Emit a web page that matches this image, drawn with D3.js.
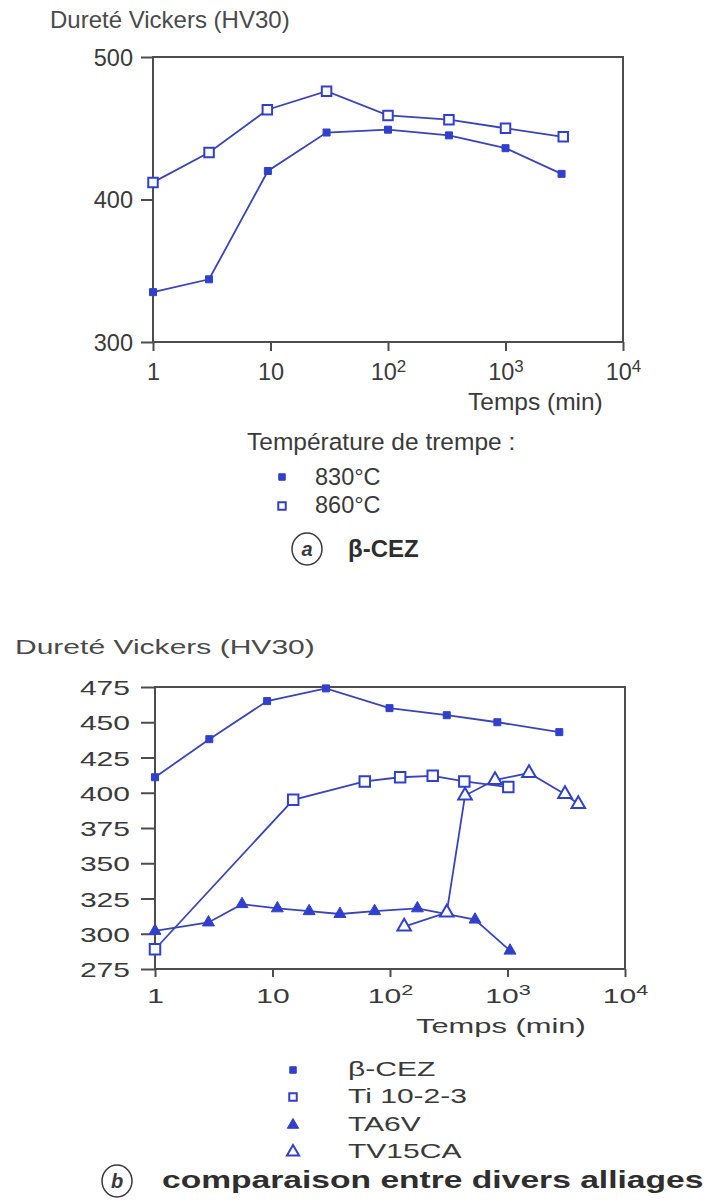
<!DOCTYPE html>
<html>
<head>
<meta charset="utf-8">
<script src="https://cdn.jsdelivr.net/npm/d3@7"></script>
<style>
  html, body { margin: 0; padding: 0; background: #ffffff; }
  svg { display: block; }
  text { font-family: "Liberation Sans", Arial, Helvetica, sans-serif; }
</style>
</head>
<body>
<svg id="fig" width="704" height="1204"></svg>
<script>
// ---- Shared time axis (minutes, log scale) ----
const timeTicks = [1, 10, 100, 1000, 10000];
const yTicksA = [300, 400, 500];
const yTicksB = [275, 300, 325, 350, 375, 400, 425, 450, 475];

// ---- (a) beta-CEZ, two quench temperatures ----
const quenchTitle = "Température de trempe :";
const quenchLabels = ["830°C", "860°C"];
const time830 = [1, 3, 9.5, 30, 100, 330, 1000, 3000];
const hv830 = [335, 344, 420, 447, 449, 445, 436, 418];
const time860 = [1, 3, 9.4, 30, 100, 330, 1000, 3100];
const hv860 = [412, 433, 463, 476, 459, 456, 450, 444];

// ---- (b) comparison of alloys ----
const alloyLabels = ["β-CEZ", "Ti 10-2-3", "TA6V", "TV15CA"];
const timeCEZ = [1, 2.9, 9, 28.5, 99, 304, 820, 2760];
const hvCEZ = [411, 438, 465, 474, 460, 455, 450, 443];
const timeTi1023 = [1, 15, 61, 122, 231, 429, 1016];
const hvTi1023 = [289, 395, 408, 411, 412, 408, 404];
const timeTA6V = [1, 2.85, 5.5, 11, 20.5, 37.5, 74, 171, 529, 1050];
const hvTA6V = [302, 308, 321, 318, 316, 314, 316, 318, 310, 288];
const timeTV15CA = [132, 304, 435, 783, 1524, 3085, 4005];
const hvTV15CA = [305, 315, 398, 409, 414, 399, 392];

const yTitle = "Dureté Vickers (HV30)";
const xTitle = "Temps (min)";
const captionA = "β-CEZ";
const captionB = "comparaison entre divers alliages";

// ---- styling ----
const BLUE = "#3040cc";
const LINE = "#3944b8";
const INK = "#3a3a3a";
const FRAME = "#4d4d4d";

const svg = d3.select("#fig");

const zip = (xs, ys) => xs.map((t, i) => [t, ys[i]]);

// Horizontal stretch of a text element about its anchor x
function stretch(sel, sx, ax) {
  if (sx === 1) return;
  sel.each(function () {
    const t = d3.select(this);
    const x = ax !== undefined ? ax : (+t.attr("x") || 0);
    t.attr("transform", `translate(${x},0) scale(${sx},1) translate(${-x},0)`);
  });
}

function label(g, str, x, y, o = {}) {
  const t = g.append("text")
    .attr("x", x).attr("y", y)
    .attr("font-size", o.fs || 20)
    .attr("fill", o.fill || INK)
    .attr("text-anchor", o.anchor || "start")
    .attr("font-weight", o.weight || "normal")
    .attr("font-style", o.style || "normal")
    .text(str);
  stretch(t, o.sx || 1, x);
  return t;
}

const symbols = {
  filledSquare: { type: d3.symbolSquare, fill: true },
  openSquare: { type: d3.symbolSquare, fill: false },
  filledTri: { type: d3.symbolTriangle, fill: true },
  openTri: { type: d3.symbolTriangle, fill: false }
};

function marker(g, kind, size, cx, cy) {
  const s = symbols[kind];
  g.append("path")
    .attr("d", d3.symbol().type(s.type).size(size)())
    .attr("transform", `translate(${cx},${cy})`)
    .attr("fill", s.fill ? BLUE : "#ffffff")
    .attr("stroke", BLUE)
    .attr("stroke-width", s.fill ? 1 : 2);
}

function panel(cfg) {
  const x = d3.scaleLog()
    .domain([timeTicks[0], timeTicks[timeTicks.length - 1]])
    .range([cfg.left, cfg.right]);
  const y = d3.scaleLinear().domain(cfg.yDomain).range([cfg.bottom, cfg.top]);
  const g = svg.append("g");

  // y axis with outward ticks
  const ya = g.append("g")
    .attr("transform", `translate(${cfg.left},0)`)
    .call(d3.axisLeft(y).tickValues(cfg.yTicks).tickSize(cfg.yTick)
      .tickSizeOuter(0).tickPadding(cfg.yPad).tickFormat(d3.format("d")));
  ya.attr("font-family", null).attr("font-size", cfg.fs);
  ya.select(".domain").remove();
  ya.selectAll(".tick line").attr("stroke", FRAME).attr("stroke-width", 2);
  ya.selectAll(".tick text").attr("fill", INK).attr("dy", "0.36em");
  stretch(ya.selectAll(".tick text"), cfg.sx);

  // x axis (decades)
  const xa = g.append("g")
    .attr("transform", `translate(0,${cfg.bottom})`)
    .call(d3.axisBottom(x).tickValues(timeTicks).tickSize(cfg.xTick)
      .tickSizeOuter(0).tickFormat(() => ""));
  xa.attr("font-family", null).attr("font-size", cfg.fs);
  xa.select(".domain").remove();
  xa.selectAll(".tick line").attr("stroke", FRAME).attr("stroke-width", 2);
  xa.selectAll(".tick text").each(function (d) {
    const e = Math.round(Math.log10(d));
    const t = d3.select(this).attr("y", cfg.xLab).attr("dy", null).attr("fill", INK);
    if (e < 2) {
      t.text(e === 0 ? "1" : "10");
    } else {
      t.append("tspan").text("10");
      t.append("tspan").attr("dy", -cfg.supRaise)
        .attr("font-size", cfg.fs * 0.72).text(e);
    }
  });
  stretch(xa.selectAll(".tick text"), cfg.sx, 0);

  // plot frame
  g.append("rect")
    .attr("x", cfg.left).attr("y", cfg.top)
    .attr("width", cfg.right - cfg.left).attr("height", cfg.bottom - cfg.top)
    .attr("fill", "none").attr("stroke", FRAME).attr("stroke-width", 2);

  const line = d3.line().x(d => x(d[0])).y(d => y(d[1]));
  cfg.series.forEach(s => {
    const pts = zip(s.t, s.v);
    g.append("path").attr("d", line(pts))
      .attr("fill", "none").attr("stroke", LINE).attr("stroke-width", 1.8);
  });
  cfg.series.forEach(s => {
    zip(s.t, s.v).forEach(p => marker(g, s.kind, s.size, x(p[0]), y(p[1])));
  });
  return g;
}

// ================= (a) =================
const gA = panel({
  left: 153, right: 623, top: 57, bottom: 342,
  yDomain: [300, 500], yTicks: yTicksA,
  fs: 23.5, sx: 1, yTick: 12, yPad: 8, xTick: 9, xLab: 38, supRaise: 8,
  series: [
    { t: time830, v: hv830, kind: "filledSquare", size: 49 },
    { t: time860, v: hv860, kind: "openSquare", size: 90 }
  ]
});
label(gA, yTitle, 50, 28, { fs: 24, fill: "#4a4a4a" });
label(gA, xTitle, 468, 410, { fs: 24.5 });
label(gA, quenchTitle, 247, 450, { fs: 24.5 });
marker(gA, "filledSquare", 42, 282, 477);
label(gA, quenchLabels[0], 315, 485, { fs: 23.5 });
marker(gA, "openSquare", 56, 282, 506);
label(gA, quenchLabels[1], 315, 513, { fs: 23.5 });
gA.append("ellipse").attr("cx", 307).attr("cy", 549).attr("rx", 15).attr("ry", 16)
  .attr("fill", "none").attr("stroke", INK).attr("stroke-width", 1.5);
label(gA, "a", 307, 556, { fs: 20, weight: "bold", style: "italic", anchor: "middle" });
label(gA, captionA, 348, 557, { fs: 24, weight: "bold", fill: "#2e2e2e" });

// ================= (b) =================
const SXB = 1.43;
const gB = panel({
  left: 155, right: 625, top: 687, bottom: 969,
  yDomain: [275, 475], yTicks: yTicksB,
  fs: 21, sx: SXB, yTick: 14, yPad: 11, xTick: 8, xLab: 34, supRaise: 8,
  series: [
    { t: timeCEZ, v: hvCEZ, kind: "filledSquare", size: 49 },
    { t: timeTi1023, v: hvTi1023, kind: "openSquare", size: 110 },
    { t: timeTA6V, v: hvTA6V, kind: "filledTri", size: 62 },
    { t: timeTV15CA, v: hvTV15CA, kind: "openTri", size: 80 }
  ]
});
label(gB, yTitle, 15, 654, { fs: 21, sx: SXB, fill: "#4a4a4a" });
label(gB, xTitle, 416, 1033, { fs: 21, sx: 1.47 });

const legendKinds = ["filledSquare", "openSquare", "filledTri", "openTri"];
const legendSizes = [42, 56, 56, 64];
const legendBase = [1076, 1103, 1131, 1158];
alloyLabels.forEach((name, i) => {
  marker(gB, legendKinds[i], legendSizes[i], 293, legendBase[i] - 6);
  label(gB, name, 348, legendBase[i], { fs: 21, sx: SXB });
});
gB.append("ellipse").attr("cx", 117).attr("cy", 1181).attr("rx", 15).attr("ry", 16)
  .attr("fill", "none").attr("stroke", INK).attr("stroke-width", 1.5);
label(gB, "b", 117, 1188, { fs: 20, weight: "bold", style: "italic", anchor: "middle" });
label(gB, captionB, 162, 1188, { fs: 24, weight: "bold", sx: 1.4, fill: "#2e2e2e" });
</script>
</body>
</html>
